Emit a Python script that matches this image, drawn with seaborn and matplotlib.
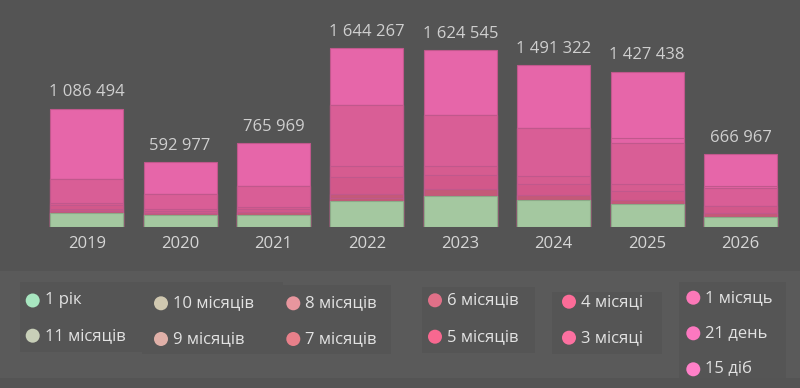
import pandas as pd
import matplotlib
matplotlib.use("Agg")
import matplotlib.pyplot as plt
import seaborn as sns
from matplotlib.patches import Rectangle, Circle

# data
years = ["2019", "2020", "2021", "2022", "2023", "2024", "2025", "2026"]
categories = ["1 рік", "11 місяців", "10 місяців", "9 місяців", "8 місяців", "7 місяців",
              "6 місяців", "5 місяців", "4 місяці", "3 місяці", "1 місяць", "21 день", "15 діб"]

one_year = [129000, 102000, 108000, 236000, 280000, 247000, 203000, 92000]
months_11 = [0, 0, 0, 0, 0, 0, 0, 0]
months_10 = [0, 0, 0, 0, 0, 0, 0, 0]
months_9 = [0, 0, 0, 0, 0, 0, 0, 0]
months_8 = [0, 0, 0, 31000, 0, 0, 0, 0]
months_7 = [18000, 22000, 25000, 31000, 62000, 46000, 43000, 31000]
months_6 = [18000, 0, 0, 0, 0, 0, 0, 0]
months_5 = [31000, 21000, 25000, 157000, 136000, 102000, 86000, 68000]
months_4 = [18000, 18000, 24000, 102000, 77000, 67000, 62000, 0]
months_3 = [224000, 136000, 191000, 561000, 471000, 446000, 372000, 166000]
month_1 = [0, 0, 0, 0, 0, 0, 0, 0]
days_21 = [0, 0, 0, 0, 0, 0, 46000, 18000]
days_15 = [648494, 293977, 392969, 526267, 598545, 583322, 615438, 291967]

series = [one_year, months_11, months_10, months_9, months_8, months_7, months_6,
          months_5, months_4, months_3, month_1, days_21, days_15]

# styles
BG = "#545454"
bar_colors = ["#a4c8a0", "#b8b8a0", "#c0a8a0", "#c89090", "#c05c74", "#c45a78", "#cc5a82",
              "#d2588a", "#d65c90", "#d95e96", "#de62a0", "#e364a6", "#e666a9"]
edge_colors = ["#8caa88"] + ["#c0588c"] * 12
legend_colors = ["#a8e6c0", "#c8cfb8", "#d0c8b0", "#e0b0a8", "#e8969e", "#e8808a", "#e07088",
                 "#f86890", "#fc6c98", "#fc70a0", "#fc78b8", "#fc78c0", "#ff80c8"]

plt.rcParams["font.family"] = ["Open Sans", "DejaVu Sans"]

rows = []
for cat, vals in zip(categories, series):
    for y, v in zip(years, vals):
        rows.append({"year": y, "category": cat, "value": v})
df = pd.DataFrame(rows)
df["category"] = pd.Categorical(df["category"], categories=categories, ordered=True)
df = df.sort_values(["year", "category"])
df["cum"] = df.groupby("year")["value"].cumsum()

fig = plt.figure(figsize=(8, 3.88), dpi=100)
fig.patch.set_facecolor(BG)

# legend panel drawn in pixel coordinates
lax = fig.add_axes([0, 0, 1, 1], zorder=-1)
lax.set_xlim(0, 800)
lax.set_ylim(388, 0)
lax.axis("off")
lax.add_patch(Rectangle((0, 270.5), 800, 107, color="#5a5a5a", lw=0))
for (x0, y0, w, h) in [(20, 281.7, 121.7, 70), (141.7, 281.7, 141, 72.6), (282.7, 285, 108, 69.3),
                       (422, 287, 113, 66), (551.7, 292.3, 110, 62), (679, 282, 106.7, 95.5)]:
    lax.add_patch(Rectangle((x0, y0), w, h, color="#555555", lw=0))
legend_pos = [(32.7, 300.5), (32.7, 335.7), (161, 303.3), (161, 339), (293.3, 303.3), (293.3, 339),
              (435, 300.3), (435, 336.7), (569, 301.7), (569, 337.7),
              (693.3, 297.7), (693.3, 333.3), (693.3, 369.3)]
for cat, col, (cx, cy) in zip(categories, legend_colors, legend_pos):
    lax.add_patch(Circle((cx, cy), 7, color=col, lw=0))
    lax.text(cx + 12, cy, cat, va="center", ha="left", fontsize=12, color="#e2e2e2")

ax = fig.add_axes([0.05, 1 - 226.5 / 388, 0.934, 216.8 / 388])
ax.set_facecolor("none")

# stacked bars: draw cumulative totals from the top layer down
for cat, col, ec in reversed(list(zip(categories, bar_colors, edge_colors))):
    sub = df[df["category"] == cat]
    sns.barplot(data=sub, x="year", y="cum", order=years, color=col, saturation=1,
                width=0.78, edgecolor=ec, linewidth=0.8, errorbar=None, ax=ax)

totals = df.groupby("year")["value"].sum().reindex(years)
labels = [f"{v:,}".replace(",", " ") for v in totals]
ax.bar_label(ax.containers[0], labels=labels, padding=6, fontsize=12, color="#cfcfcf")

ax.set_ylim(0, 2000000)
ax.set_xlim(-0.5, 7.5)
ax.set_yticks([])
ax.set_xlabel("")
ax.set_ylabel("")
ax.tick_params(axis="x", length=0, pad=7, labelsize=12, labelcolor="#d6d6d6")
sns.despine(ax=ax, left=True, bottom=True)

fig.savefig("out.png", dpi=100, facecolor=BG)
